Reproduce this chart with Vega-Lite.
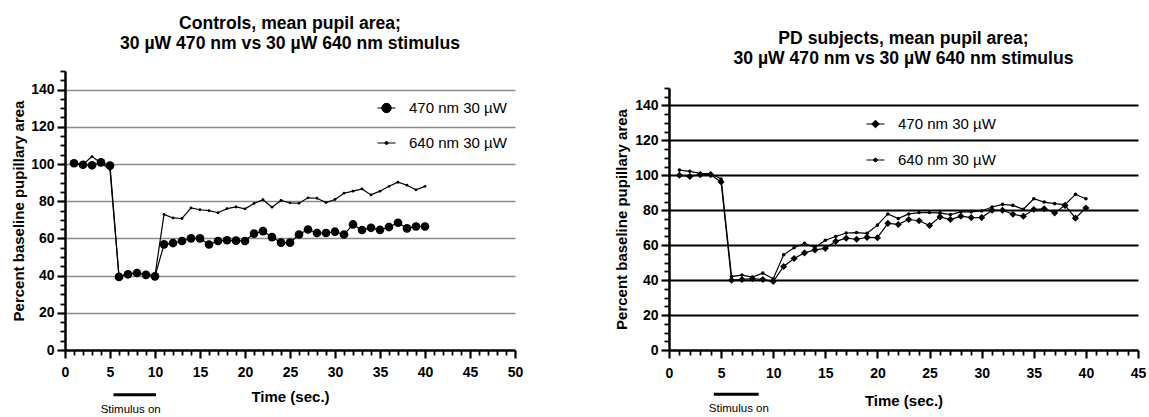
{
  "$schema": "https://vega.github.io/schema/vega-lite/v6.json",
  "background": "white",
  "padding": {"left": 11, "top": 14, "right": 5, "bottom": 0},
  "spacing": 91,
  "resolve": {"scale": {"shape": "independent"}, "legend": {"shape": "independent"}},
  "config": {
    "font": "Liberation Sans",
    "view": {"stroke": null},
    "axis": {
      "labelFont": "Liberation Sans", "labelFontWeight": "bold", "labelFontSize": 14, "labelColor": "black", "labelOverlap": false, "labelFlush": false, "tickCount": 100, "format": "d",
      "titleFont": "Liberation Sans", "titleFontWeight": "bold", "titleFontSize": 15, "titleColor": "black",
      "domainColor": "black", "domainWidth": 2.5, "tickColor": "black"
    }
  },
  "datasets": {
    "ctrl": [
      {"t":1,"s":"470 nm 30 µW","v":100.4},{"t":2,"s":"470 nm 30 µW","v":99.6},{"t":3,"s":"470 nm 30 µW","v":99.3},{"t":4,"s":"470 nm 30 µW","v":100.9},{"t":5,"s":"470 nm 30 µW","v":99.1},
      {"t":6,"s":"470 nm 30 µW","v":39.3},{"t":7,"s":"470 nm 30 µW","v":40.7},{"t":8,"s":"470 nm 30 µW","v":41.4},{"t":9,"s":"470 nm 30 µW","v":40.4},{"t":10,"s":"470 nm 30 µW","v":39.6},
      {"t":11,"s":"470 nm 30 µW","v":56.8},{"t":12,"s":"470 nm 30 µW","v":57.5},{"t":13,"s":"470 nm 30 µW","v":58.6},{"t":14,"s":"470 nm 30 µW","v":60.0},{"t":15,"s":"470 nm 30 µW","v":60.0},
      {"t":16,"s":"470 nm 30 µW","v":56.7},{"t":17,"s":"470 nm 30 µW","v":58.6},{"t":18,"s":"470 nm 30 µW","v":59.0},{"t":19,"s":"470 nm 30 µW","v":58.8},{"t":20,"s":"470 nm 30 µW","v":58.6},
      {"t":21,"s":"470 nm 30 µW","v":62.6},{"t":22,"s":"470 nm 30 µW","v":63.9},{"t":23,"s":"470 nm 30 µW","v":60.7},{"t":24,"s":"470 nm 30 µW","v":57.7},{"t":25,"s":"470 nm 30 µW","v":57.7},
      {"t":26,"s":"470 nm 30 µW","v":62.1},{"t":27,"s":"470 nm 30 µW","v":64.8},{"t":28,"s":"470 nm 30 µW","v":62.9},{"t":29,"s":"470 nm 30 µW","v":62.9},{"t":30,"s":"470 nm 30 µW","v":63.6},
      {"t":31,"s":"470 nm 30 µW","v":62.1},{"t":32,"s":"470 nm 30 µW","v":67.5},{"t":33,"s":"470 nm 30 µW","v":64.5},{"t":34,"s":"470 nm 30 µW","v":65.7},{"t":35,"s":"470 nm 30 µW","v":64.6},
      {"t":36,"s":"470 nm 30 µW","v":66.1},{"t":37,"s":"470 nm 30 µW","v":68.4},{"t":38,"s":"470 nm 30 µW","v":65.4},{"t":39,"s":"470 nm 30 µW","v":66.4},{"t":40,"s":"470 nm 30 µW","v":66.4},
      {"t":1,"s":"640 nm 30 µW","v":100.5},{"t":2,"s":"640 nm 30 µW","v":99.8},{"t":3,"s":"640 nm 30 µW","v":104.0},{"t":4,"s":"640 nm 30 µW","v":100.5},{"t":5,"s":"640 nm 30 µW","v":97.0},
      {"t":6,"s":"640 nm 30 µW","v":39.5},{"t":7,"s":"640 nm 30 µW","v":41.0},{"t":8,"s":"640 nm 30 µW","v":41.5},{"t":9,"s":"640 nm 30 µW","v":40.6},{"t":10,"s":"640 nm 30 µW","v":40.0},
      {"t":11,"s":"640 nm 30 µW","v":72.9},{"t":12,"s":"640 nm 30 µW","v":71.0},{"t":13,"s":"640 nm 30 µW","v":70.7},{"t":14,"s":"640 nm 30 µW","v":76.4},{"t":15,"s":"640 nm 30 µW","v":75.4},
      {"t":16,"s":"640 nm 30 µW","v":74.9},{"t":17,"s":"640 nm 30 µW","v":73.8},{"t":18,"s":"640 nm 30 µW","v":76.0},{"t":19,"s":"640 nm 30 µW","v":76.9},{"t":20,"s":"640 nm 30 µW","v":75.9},
      {"t":21,"s":"640 nm 30 µW","v":78.8},{"t":22,"s":"640 nm 30 µW","v":80.8},{"t":23,"s":"640 nm 30 µW","v":76.8},{"t":24,"s":"640 nm 30 µW","v":80.4},{"t":25,"s":"640 nm 30 µW","v":79.1},
      {"t":26,"s":"640 nm 30 µW","v":78.9},{"t":27,"s":"640 nm 30 µW","v":81.8},{"t":28,"s":"640 nm 30 µW","v":81.6},{"t":29,"s":"640 nm 30 µW","v":79.3},{"t":30,"s":"640 nm 30 µW","v":80.9},
      {"t":31,"s":"640 nm 30 µW","v":84.3},{"t":32,"s":"640 nm 30 µW","v":85.4},{"t":33,"s":"640 nm 30 µW","v":86.6},{"t":34,"s":"640 nm 30 µW","v":83.4},{"t":35,"s":"640 nm 30 µW","v":85.4},
      {"t":36,"s":"640 nm 30 µW","v":88.0},{"t":37,"s":"640 nm 30 µW","v":90.2},{"t":38,"s":"640 nm 30 µW","v":88.6},{"t":39,"s":"640 nm 30 µW","v":86.1},{"t":40,"s":"640 nm 30 µW","v":88.0}
    ],
    "pd": [
      {"t":1,"s":"470 nm 30 µW","v":100.0},{"t":2,"s":"470 nm 30 µW","v":99.4},{"t":3,"s":"470 nm 30 µW","v":100.4},{"t":4,"s":"470 nm 30 µW","v":100.4},{"t":5,"s":"470 nm 30 µW","v":96.2},
      {"t":6,"s":"470 nm 30 µW","v":40.0},{"t":7,"s":"470 nm 30 µW","v":40.4},{"t":8,"s":"470 nm 30 µW","v":40.8},{"t":9,"s":"470 nm 30 µW","v":40.4},{"t":10,"s":"470 nm 30 µW","v":39.2},
      {"t":11,"s":"470 nm 30 µW","v":47.8},{"t":12,"s":"470 nm 30 µW","v":52.4},{"t":13,"s":"470 nm 30 µW","v":55.6},{"t":14,"s":"470 nm 30 µW","v":57.3},{"t":15,"s":"470 nm 30 µW","v":58.2},
      {"t":16,"s":"470 nm 30 µW","v":62.2},{"t":17,"s":"470 nm 30 µW","v":64.0},{"t":18,"s":"470 nm 30 µW","v":63.4},{"t":19,"s":"470 nm 30 µW","v":64.5},{"t":20,"s":"470 nm 30 µW","v":64.3},
      {"t":21,"s":"470 nm 30 µW","v":72.5},{"t":22,"s":"470 nm 30 µW","v":71.9},{"t":23,"s":"470 nm 30 µW","v":74.7},{"t":24,"s":"470 nm 30 µW","v":74.0},{"t":25,"s":"470 nm 30 µW","v":71.3},
      {"t":26,"s":"470 nm 30 µW","v":76.2},{"t":27,"s":"470 nm 30 µW","v":74.7},{"t":28,"s":"470 nm 30 µW","v":76.6},{"t":29,"s":"470 nm 30 µW","v":75.8},{"t":30,"s":"470 nm 30 µW","v":75.8},
      {"t":31,"s":"470 nm 30 µW","v":80.0},{"t":32,"s":"470 nm 30 µW","v":80.0},{"t":33,"s":"470 nm 30 µW","v":77.7},{"t":34,"s":"470 nm 30 µW","v":76.6},{"t":35,"s":"470 nm 30 µW","v":80.4},
      {"t":36,"s":"470 nm 30 µW","v":80.9},{"t":37,"s":"470 nm 30 µW","v":78.5},{"t":38,"s":"470 nm 30 µW","v":82.8},{"t":39,"s":"470 nm 30 µW","v":75.5},{"t":40,"s":"470 nm 30 µW","v":81.3},
      {"t":1,"s":"640 nm 30 µW","v":103.0},{"t":2,"s":"640 nm 30 µW","v":102.3},{"t":3,"s":"640 nm 30 µW","v":101.1},{"t":4,"s":"640 nm 30 µW","v":101.0},{"t":5,"s":"640 nm 30 µW","v":97.9},
      {"t":6,"s":"640 nm 30 µW","v":42.1},{"t":7,"s":"640 nm 30 µW","v":42.9},{"t":8,"s":"640 nm 30 µW","v":41.7},{"t":9,"s":"640 nm 30 µW","v":44.0},{"t":10,"s":"640 nm 30 µW","v":40.8},
      {"t":11,"s":"640 nm 30 µW","v":54.5},{"t":12,"s":"640 nm 30 µW","v":58.5},{"t":13,"s":"640 nm 30 µW","v":61.1},{"t":14,"s":"640 nm 30 µW","v":58.6},{"t":15,"s":"640 nm 30 µW","v":62.8},
      {"t":16,"s":"640 nm 30 µW","v":65.0},{"t":17,"s":"640 nm 30 µW","v":67.0},{"t":18,"s":"640 nm 30 µW","v":67.2},{"t":19,"s":"640 nm 30 µW","v":66.8},{"t":20,"s":"640 nm 30 µW","v":71.5},
      {"t":21,"s":"640 nm 30 µW","v":77.9},{"t":22,"s":"640 nm 30 µW","v":75.3},{"t":23,"s":"640 nm 30 µW","v":77.9},{"t":24,"s":"640 nm 30 µW","v":78.7},{"t":25,"s":"640 nm 30 µW","v":78.7},
      {"t":26,"s":"640 nm 30 µW","v":78.5},{"t":27,"s":"640 nm 30 µW","v":77.5},{"t":28,"s":"640 nm 30 µW","v":79.1},{"t":29,"s":"640 nm 30 µW","v":79.1},{"t":30,"s":"640 nm 30 µW","v":79.6},
      {"t":31,"s":"640 nm 30 µW","v":81.9},{"t":32,"s":"640 nm 30 µW","v":83.4},{"t":33,"s":"640 nm 30 µW","v":82.8},{"t":34,"s":"640 nm 30 µW","v":80.6},{"t":35,"s":"640 nm 30 µW","v":86.6},
      {"t":36,"s":"640 nm 30 µW","v":84.7},{"t":37,"s":"640 nm 30 µW","v":83.8},{"t":38,"s":"640 nm 30 µW","v":83.2},{"t":39,"s":"640 nm 30 µW","v":89.1},{"t":40,"s":"640 nm 30 µW","v":86.6}
    ],
    "stimCtrl": [{"start": 5.4, "end": 10.1, "mid": 7.3, "by": -24, "ty": -32, "label": "Stimulus on"}],
    "stimPd": [{"start": 4.3, "end": 8.6, "mid": 6.7, "by": -25.4, "ty": -33.7, "label": "Stimulus on"}]
  },
  "hconcat": [
    {
      "width": 450, "height": 279,
      "title": {"text": ["Controls, mean pupil area;", "30 µW 470 nm vs 30 µW 640 nm stimulus"], "fontSize": 17.6, "fontWeight": "bold", "font": "Liberation Sans", "lineHeight": 20, "offset": 11.5, "anchor": "middle", "color": "black"},
      "layer": [
        {
          "data": {"name": "ctrl"},
          "mark": {"type": "line", "color": "black", "strokeWidth": 1.2},
          "encoding": {
            "x": {"field": "t", "type": "quantitative", "scale": {"domain": [0, 50], "nice": false},
              "axis": {"title": "Time (sec.)", "grid": false, "values": [0,1,2,3,4,5,6,7,8,9,10,11,12,13,14,15,16,17,18,19,20,21,22,23,24,25,26,27,28,29,30,31,32,33,34,35,36,37,38,39,40,41,42,43,44,45,46,47,48,49,50],
                "labelExpr": "datum.value % 5 === 0 ? datum.label : ''", "labelPadding": 7, "titlePadding": 10,
                "tickSize": {"condition": {"test": "datum.value % 5 === 0", "value": 8}, "value": 5},
                "tickWidth": {"condition": {"test": "datum.value % 5 === 0", "value": 2.2}, "value": 1.8}}},
            "y": {"field": "v", "type": "quantitative", "scale": {"domain": [0, 150], "nice": false},
              "axis": {"title": "Percent baseline pupillary area", "values": [0,5,10,15,20,25,30,35,40,45,50,55,60,65,70,75,80,85,90,95,100,105,110,115,120,125,130,135,140,145,150],
                "labelExpr": "datum.value % 20 === 0 && datum.value <= 140 ? datum.label : ''", "labelPadding": 3, "titlePadding": 4,
                "grid": true, "gridColor": "#8c8c8c", "gridWidth": 1.6,
                "gridOpacity": {"condition": {"test": "datum.value % 20 === 0 && datum.value > 0 && datum.value <= 140", "value": 1}, "value": 0},
                "tickSize": {"condition": {"test": "datum.value % 20 === 0", "value": 8}, "value": 5},
                "tickWidth": {"condition": {"test": "datum.value % 20 === 0", "value": 2.2}, "value": 1.8}}},
            "detail": {"field": "s"}
          }
        },
        {
          "data": {"name": "ctrl"},
          "mark": {"type": "point", "filled": true, "color": "black", "opacity": 1},
          "encoding": {
            "x": {"field": "t", "type": "quantitative"},
            "y": {"field": "v", "type": "quantitative"},
            "size": {"condition": {"test": "datum.s === '470 nm 30 µW'", "value": 75}, "value": 8},
            "shape": {"value": "circle"}
          }
        },
        {
          "data": {"name": "ctrl"},
          "transform": [{"filter": "false"}],
          "mark": {"type": "point", "filled": true, "color": "black", "opacity": 1},
          "encoding": {
            "x": {"field": "t", "type": "quantitative"},
            "y": {"field": "v", "type": "quantitative"},
            "shape": {"field": "s", "type": "nominal",
              "scale": {"domain": ["470 nm 30 µW", "640 nm 30 µW"], "range": ["M-0.9,0L0.9,0M0.47,0A0.47,0.47,0,1,1,-0.47,0A0.47,0.47,0,1,1,0.47,0Z", "M-0.9,0L0.9,0M0.15,0A0.15,0.15,0,1,1,-0.15,0A0.15,0.15,0,1,1,0.15,0Z"]},
              "legend": {"orient": "none", "legendX": 311, "legendY": 26.5, "title": null, "padding": 0,
                "labelFont": "Liberation Sans", "labelFontSize": 15, "labelColor": "black", "labelFontWeight": "normal",
                "symbolSize": 400, "labelOffset": 12, "rowPadding": 16,
                "encoding": {"symbols": {"size": {"value": 400}, "fill": {"value": "black"}, "stroke": {"value": "black"}, "strokeWidth": {"value": 1}, "opacity": {"value": 1}, "fillOpacity": {"value": 1}}}}}
          }
        },
        {
          "data": {"name": "stimCtrl"},
          "mark": {"type": "rule", "color": "black", "strokeWidth": 3},
          "encoding": {"x": {"field": "start", "type": "quantitative"}, "x2": {"field": "end"}, "y": {"field": "by", "type": "quantitative"}}
        },
        {
          "data": {"name": "stimCtrl"},
          "mark": {"type": "text", "color": "black", "fontSize": 11.5, "font": "Liberation Sans"},
          "encoding": {"x": {"field": "mid", "type": "quantitative"}, "y": {"field": "ty", "type": "quantitative"}, "text": {"field": "label"}}
        }
      ]
    },
    {
      "width": 469, "height": 279,
      "title": {"text": ["PD subjects, mean  pupil area;", "30 µW 470 nm vs 30 µW 640 nm stimulus"], "fontSize": 17.6, "fontWeight": "bold", "font": "Liberation Sans", "lineHeight": 20, "offset": 3, "anchor": "middle", "color": "black"},
      "layer": [
        {
          "data": {"name": "pd"},
          "mark": {"type": "line", "color": "black", "strokeWidth": 1.2},
          "encoding": {
            "x": {"field": "t", "type": "quantitative", "scale": {"domain": [0, 45], "nice": false},
              "axis": {"title": "Time (sec.)", "grid": false, "values": [0,1,2,3,4,5,6,7,8,9,10,11,12,13,14,15,16,17,18,19,20,21,22,23,24,25,26,27,28,29,30,31,32,33,34,35,36,37,38,39,40,41,42,43,44,45],
                "labelExpr": "datum.value % 5 === 0 ? datum.label : ''", "labelPadding": 8, "titlePadding": 13,
                "tickSize": {"condition": {"test": "datum.value % 5 === 0", "value": 8}, "value": 5},
                "tickWidth": {"condition": {"test": "datum.value % 5 === 0", "value": 2.2}, "value": 1.8}}},
            "y": {"field": "v", "type": "quantitative", "scale": {"domain": [0, 150], "nice": false, "range": [279, 17]},
              "axis": {"title": "Percent baseline pupillary area", "values": [0,5,10,15,20,25,30,35,40,45,50,55,60,65,70,75,80,85,90,95,100,105,110,115,120,125,130,135,140,145,150],
                "labelExpr": "datum.value % 20 === 0 && datum.value <= 140 ? datum.label : ''", "labelPadding": 3, "titlePadding": 5,
                "grid": true, "gridColor": "black", "gridWidth": 2,
                "gridOpacity": {"condition": {"test": "datum.value % 20 === 0 && datum.value > 0 && datum.value <= 140", "value": 1}, "value": 0},
                "tickSize": {"condition": {"test": "datum.value % 20 === 0", "value": 8}, "value": 5},
                "tickWidth": {"condition": {"test": "datum.value % 20 === 0", "value": 2.2}, "value": 1.8}}},
            "detail": {"field": "s"}
          }
        },
        {
          "data": {"name": "pd"},
          "mark": {"type": "point", "filled": true, "color": "black", "opacity": 1},
          "encoding": {
            "x": {"field": "t", "type": "quantitative"},
            "y": {"field": "v", "type": "quantitative"},
            "size": {"condition": {"test": "datum.s === '470 nm 30 µW'", "value": 50}, "value": 13},
            "shape": {"condition": {"test": "datum.s === '470 nm 30 µW'", "value": "diamond"}, "value": "circle"}
          }
        },
        {
          "data": {"name": "pd"},
          "transform": [{"filter": "false"}],
          "mark": {"type": "point", "filled": true, "color": "black", "opacity": 1},
          "encoding": {
            "x": {"field": "t", "type": "quantitative"},
            "y": {"field": "v", "type": "quantitative"},
            "shape": {"field": "s", "type": "nominal",
              "scale": {"domain": ["470 nm 30 µW", "640 nm 30 µW"], "range": ["M-0.9,0L0.9,0M0,-0.38L0.38,0L0,0.38L-0.38,0Z", "M-0.9,0L0.9,0M0.18,0A0.18,0.18,0,1,1,-0.18,0A0.18,0.18,0,1,1,0.18,0Z"]},
              "legend": {"orient": "none", "legendX": 196, "legendY": 42.5, "title": null, "padding": 0,
                "labelFont": "Liberation Sans", "labelFontSize": 15, "labelColor": "black", "labelFontWeight": "normal",
                "symbolSize": 400, "labelOffset": 12, "rowPadding": 17,
                "encoding": {"symbols": {"size": {"value": 400}, "fill": {"value": "black"}, "stroke": {"value": "black"}, "strokeWidth": {"value": 1}, "opacity": {"value": 1}, "fillOpacity": {"value": 1}}}}}
          }
        },
        {
          "data": {"name": "stimPd"},
          "mark": {"type": "rule", "color": "black", "strokeWidth": 3},
          "encoding": {"x": {"field": "start", "type": "quantitative"}, "x2": {"field": "end"}, "y": {"field": "by", "type": "quantitative"}}
        },
        {
          "data": {"name": "stimPd"},
          "mark": {"type": "text", "color": "black", "fontSize": 11.5, "font": "Liberation Sans"},
          "encoding": {"x": {"field": "mid", "type": "quantitative"}, "y": {"field": "ty", "type": "quantitative"}, "text": {"field": "label"}}
        }
      ]
    }
  ]
}
